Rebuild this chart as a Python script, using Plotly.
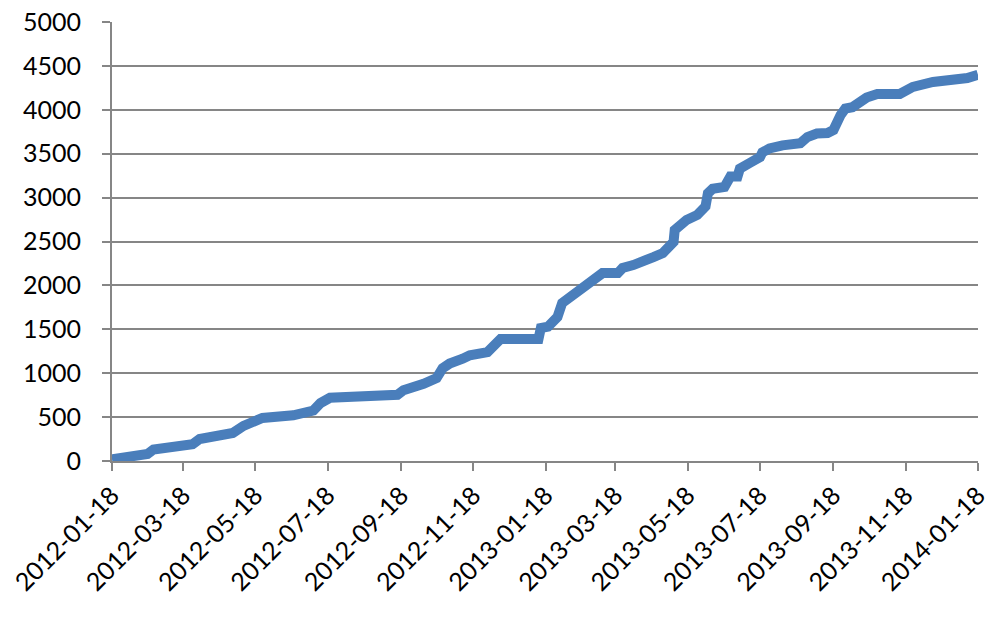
import plotly.graph_objects as go

dates = [
    "2012-01-18", "2012-02-05", "2012-02-17", "2012-02-22", "2012-03-04", "2012-03-26",
    "2012-04-01", "2012-04-12", "2012-04-29", "2012-05-08", "2012-05-16", "2012-05-24",
    "2012-06-19", "2012-07-06", "2012-07-12", "2012-07-20", "2012-09-15", "2012-09-20",
    "2012-10-07", "2012-10-18", "2012-10-23", "2012-10-29", "2012-11-09", "2012-11-15",
    "2012-11-30", "2012-12-05", "2012-12-11", "2013-01-12", "2013-01-14", "2013-01-20",
    "2013-01-28", "2013-02-01", "2013-02-08", "2013-02-16", "2013-02-22", "2013-03-07",
    "2013-03-20", "2013-03-24", "2013-04-02", "2013-04-08", "2013-04-19", "2013-04-27",
    "2013-05-01", "2013-05-06", "2013-05-07", "2013-05-11", "2013-05-17", "2013-05-26",
    "2013-06-02", "2013-06-04", "2013-06-08", "2013-06-18", "2013-06-23", "2013-06-29",
    "2013-07-01", "2013-07-10", "2013-07-18", "2013-07-20", "2013-07-26", "2013-08-06",
    "2013-08-21", "2013-08-27", "2013-09-04", "2013-09-13", "2013-09-18", "2013-09-24",
    "2013-09-28", "2013-10-04", "2013-10-16", "2013-10-25", "2013-11-13", "2013-11-24",
    "2013-12-11", "2014-01-09", "2014-01-18",
]
values = [
    20, 55, 80, 130, 155, 190,
    250, 285, 320, 400, 460, 490,
    520, 575, 660, 720, 755, 805,
    880, 945, 1055, 1110, 1165, 1205,
    1240, 1295, 1390, 1390, 1515, 1530,
    1640, 1800, 1868, 1960, 2030, 2140,
    2140, 2198, 2232, 2255, 2323, 2369,
    2437, 2494, 2631, 2688, 2745, 2802,
    2900, 3050, 3100, 3121, 3240, 3240,
    3330, 3400, 3460, 3515, 3560, 3595,
    3620, 3690, 3730, 3736, 3770, 3940,
    4015, 4030, 4140, 4180, 4180, 4260,
    4317, 4362, 4400,
]

tick_dates = [
    "2012-01-18", "2012-03-18", "2012-05-18", "2012-07-18", "2012-09-18", "2012-11-18",
    "2013-01-18", "2013-03-18", "2013-05-18", "2013-07-18", "2013-09-18", "2013-11-18",
    "2014-01-18",
]
y_ticks = [0, 500, 1000, 1500, 2000, 2500, 3000, 3500, 4000, 4500, 5000]

fig = go.Figure()
fig.add_trace(go.Scatter(
    x=dates, y=values, mode="lines",
    line=dict(color="#4A7EBB", width=10),
    showlegend=False,
))

font = dict(family="Lato, Liberation Sans, sans-serif", size=25, color="#000000")

fig.update_layout(
    width=1000, height=617,
    margin=dict(l=112, r=22, t=22, b=156),
    paper_bgcolor="white", plot_bgcolor="white",
    font=font,
    xaxis=dict(
        type="date",
        range=[tick_dates[0], tick_dates[-1]],
        tickmode="array", tickvals=tick_dates, ticktext=tick_dates,
        tickangle=-45,
        showgrid=False,
        showline=True, linecolor="#868686", linewidth=2,
        ticks="outside", ticklen=8, tickwidth=2, tickcolor="#868686",
        tickfont=font,
        ticklabeloverflow="allow",
        zeroline=False,
        automargin=False,
    ),
    yaxis=dict(
        range=[0, 5000],
        tickmode="array", tickvals=y_ticks,
        showgrid=True, gridcolor="#868686", gridwidth=2,
        showline=True, linecolor="#868686", linewidth=2,
        ticks="outside", ticklen=8, tickwidth=2, tickcolor="#868686",
        tickfont=font,
        ticklabelstandoff=16,
        ticklabeloverflow="allow",
        zeroline=False,
        automargin=False,
    ),
)

fig.write_html(
    "out.html",
    config={"displayModeBar": False},
    post_script="document.body.style.margin='0';",
)
